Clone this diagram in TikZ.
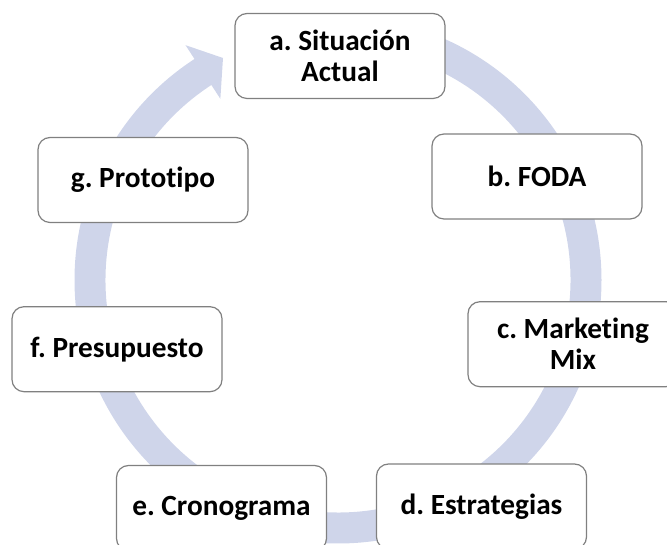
\documentclass[tikz,border=0pt]{standalone}
\usepackage{fontspec}
\setmainfont{Carlito}[Ligatures=NoCommon]
\usetikzlibrary{calc}
\definecolor{ringcol}{RGB}{207,213,234}
\definecolor{boxline}{RGB}{128,128,128}
\frenchspacing
\begin{document}
\begin{tikzpicture}[x=1pt,y=1pt,
  stepbox/.style={draw=boxline, line width=1.2pt, fill=white, rounded corners=12pt,
    minimum width=210pt, minimum height=85pt, align=center, inner sep=0pt,
    font=\fontsize{29.3}{31}\selectfont\bfseries\frenchspacing, text=black}]
\useasboundingbox (0,0) rectangle (667,545);
\coordinate (ctr) at (338,265);
\coordinate (tip) at (223,487);
% ring arrow
\fill[ringcol] ($(ctr)+(90:263.5)$) arc[start angle=90, end angle=-237, radius=263.5]
  -- ($(ctr)+(123:280)$) -- (tip) -- ($(ctr)+(123:216)$)
  -- ($(ctr)+(123:232.5)$) arc[start angle=-237, end angle=90, radius=232.5] -- cycle;
% nodes
\node[stepbox] (a) at (340,489) {a. Situación\\Actual};
\node[stepbox] (b) at (537,368.5) {b. FODA};
\node[stepbox] (c) at (573,200.8) {c. Marketing\\Mix};
\node[stepbox] (d) at (481.5,38.5) {d. Estrategias};
\node[stepbox] (e) at (221.5,37) {e. Cronograma};
\node[stepbox] (f) at (117,195.8) {f. Presupuesto};
\node[stepbox] (g) at (143,365) {g. Prototipo};
\end{tikzpicture}
\end{document}
